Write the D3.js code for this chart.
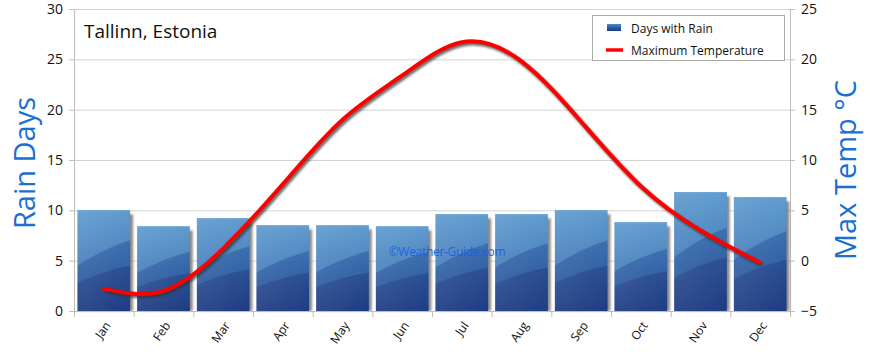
<!DOCTYPE html>
<html><head><meta charset="utf-8">
<script src="https://cdn.jsdelivr.net/npm/d3@7"></script>
<style>body{margin:0;background:#fff}svg{display:block}</style>
</head><body>
<svg id="c" width="870" height="352"></svg>
<script>
const months = ["Jan","Feb","Mar","Apr","May","Jun","Jul","Aug","Sep","Oct","Nov","Dec"];
const rainDays = [10.0, 8.4, 9.2, 8.5, 8.5, 8.4, 9.6, 9.6, 10.0, 8.8, 11.8, 11.3];
const maxTemp = [-2.8, -3.0, 1.2, 7.6, 14.0, 18.4, 21.7, 19.8, 13.8, 7.4, 3.0, -0.2];
const leftTicks = [0,5,10,15,20,25,30];
const rightTicks = [-5,0,5,10,15,20,25];

const svg = d3.select("#c");
const font = "'Open Sans', 'DejaVu Sans', sans-serif";
const L = 74, R = 790, T = 9, B = 311;

const x = d3.scaleBand().domain(months).range([L, R]).paddingInner(0.12).paddingOuter(0.06);
const xb = d3.scaleBand().domain(months).range([L, R]);
const yL = d3.scaleLinear().domain([0,30]).range([B, T]);
const yR = d3.scaleLinear().domain([-5,25]).range([B, T]);

const defs = svg.append("defs");
const g1 = defs.append("linearGradient").attr("id","barg").attr("x1","0").attr("y1","0").attr("x2","0").attr("y2","1");
g1.append("stop").attr("offset","0").attr("stop-color","#4b8cc6");
g1.append("stop").attr("offset","0.45").attr("stop-color","#2f63a8");
g1.append("stop").attr("offset","1").attr("stop-color","#1d3a80");
const g2 = defs.append("linearGradient").attr("id","hl").attr("x1","0").attr("y1","0").attr("x2","1").attr("y2","1");
g2.append("stop").attr("offset","0").attr("stop-color","#ffffff").attr("stop-opacity",0.15);
g2.append("stop").attr("offset","1").attr("stop-color","#ffffff").attr("stop-opacity",0.0);
const f = defs.append("filter").attr("id","blur").attr("x","-20%").attr("y","-20%").attr("width","140%").attr("height","140%");
f.append("feGaussianBlur").attr("stdDeviation",1.2);

// gridlines
svg.append("g").selectAll("line").data(leftTicks).join("line")
  .attr("x1",L).attr("x2",R).attr("y1",d=>yL(d)+0.5).attr("y2",d=>yL(d)+0.5)
  .attr("stroke","#d4d4d4").attr("stroke-width",1);

// axes
const axL = svg.append("g").attr("transform",`translate(${L},0)`)
  .call(d3.axisLeft(yL).tickValues(leftTicks).tickSize(5).tickPadding(6));
const axR = svg.append("g").attr("transform",`translate(${R},0)`)
  .call(d3.axisRight(yR).tickValues(rightTicks).tickSize(5).tickPadding(6));
[axL, axR].forEach(a=>{
  a.select(".domain").attr("stroke","#bdbdbd");
  a.selectAll(".tick line").attr("stroke","#bdbdbd");
  a.selectAll("text").attr("font-family",font).attr("font-size",14).attr("fill","#111");
});

// bars
const bars = svg.append("g");
bars.selectAll("rect.sh").data(rainDays).join("rect").attr("class","sh")
  .attr("x",(d,i)=>x(months[i])+3).attr("y",d=>yL(d)+4)
  .attr("width",x.bandwidth()).attr("height",d=>B-yL(d)-4)
  .attr("fill","#777").attr("opacity",0.85).attr("filter","url(#blur)");
bars.selectAll("rect.b").data(rainDays).join("rect").attr("class","b")
  .attr("x",(d,i)=>x(months[i])).attr("y",d=>yL(d))
  .attr("width",x.bandwidth()).attr("height",d=>B-yL(d))
  .attr("fill","url(#barg)");
bars.selectAll("path.w1").data(rainDays).join("path").attr("class","w1")
  .attr("d",(d,i)=>{const x0=x(months[i]), w=x.bandwidth(), y0=yL(d), h=B-y0;
    return `M${x0},${y0}H${x0+w}V${y0+h*0.3}Q${x0+w*0.5},${y0+h*0.38} ${x0},${y0+h*0.55}Z`;})
  .attr("fill","#5a9ad0").attr("opacity",0.5);
bars.selectAll("path.w2").data(rainDays).join("path").attr("class","w2")
  .attr("d",(d,i)=>{const x0=x(months[i]), w=x.bandwidth(), y0=yL(d), h=B-y0;
    return `M${x0},${y0+h*0.55}Q${x0+w*0.5},${y0+h*0.38} ${x0+w},${y0+h*0.3}V${y0+h*0.55}Q${x0+w*0.5},${y0+h*0.6} ${x0},${y0+h*0.72}Z`;})
  .attr("fill","#2c5fa6").attr("opacity",0.5);
bars.selectAll("path.w3").data(rainDays).join("path").attr("class","w3")
  .attr("d",(d,i)=>{const x0=x(months[i]), w=x.bandwidth(), y0=yL(d), h=B-y0;
    return `M${x0},${y0+h*0.72}Q${x0+w*0.5},${y0+h*0.6} ${x0+w},${y0+h*0.55}V${B}H${x0}Z`;})
  .attr("fill","#1f3d86").attr("opacity",0.6);
bars.selectAll("rect.hl").data(rainDays).join("rect").attr("class","hl")
  .attr("x",(d,i)=>x(months[i])).attr("y",d=>yL(d))
  .attr("width",x.bandwidth()).attr("height",d=>B-yL(d))
  .attr("fill","url(#hl)");
bars.selectAll("line.top").data(rainDays).join("line").attr("class","top")
  .attr("x1",(d,i)=>x(months[i])).attr("x2",(d,i)=>x(months[i])+x.bandwidth())
  .attr("y1",d=>yL(d)+0.5).attr("y2",d=>yL(d)+0.5).attr("stroke","#6fa6d6").attr("stroke-width",1);

// x axis
const axB = svg.append("g").attr("transform",`translate(0,${B})`)
  .call(d3.axisBottom(xb).tickSize(0).tickPadding(0));
axB.select(".domain").attr("stroke","#bdbdbd");
axB.selectAll(".tick text").attr("font-family",font).attr("font-size",12).attr("fill","#111")
  .attr("text-anchor","end").attr("dy","0.35em")
  .attr("transform","translate(4,12) rotate(-55)");
svg.append("g").selectAll("line").data(months.concat(["end"])).join("line")
  .attr("x1",(d,i)=>L+i*xb.step()+0.5).attr("x2",(d,i)=>L+i*xb.step()+0.5)
  .attr("y1",B).attr("y2",B+6).attr("stroke","#bdbdbd");

// watermark
svg.append("text").attr("x",xb("Jul")+15).attr("y",256)
  .attr("text-anchor","middle").attr("font-family",font).attr("font-size",12)
  .attr("letter-spacing",-0.3)
  .attr("fill","#1f62e0").text("©Weather-Guide.com");

// temperature line
const line = d3.line().x((d,i)=>xb(months[i])+xb.bandwidth()/2).y(d=>yR(d)).curve(d3.curveNatural);
svg.append("path").datum(maxTemp).attr("d",line).attr("fill","none")
  .attr("stroke","#333").attr("stroke-width",4.5).attr("opacity",0.7)
  .attr("transform","translate(1.5,2)").attr("filter","url(#blur)");
svg.append("path").datum(maxTemp).attr("d",line).attr("fill","none")
  .attr("stroke","#ff0000").attr("stroke-width",4).attr("stroke-linecap","round");

// title
svg.append("text").attr("x",84).attr("y",38).attr("font-family",font).attr("font-size",19)
  .attr("fill","#111").text("Tallinn, Estonia");

// axis titles
svg.append("text").attr("transform","translate(35,163) rotate(-90)").attr("text-anchor","middle")
  .attr("font-family",font).attr("font-size",29).attr("fill","#1a6fd3").text("Rain Days");
svg.append("text").attr("transform","translate(856,170) rotate(-90)").attr("text-anchor","middle")
  .attr("font-family",font).attr("font-size",29).attr("fill","#1a6fd3").text("Max Temp °C");

// legend
const lg = svg.append("g");
lg.append("rect").attr("x",592.5).attr("y",15.5).attr("width",192).attr("height",45)
  .attr("fill","#fff").attr("stroke","#aaa");
lg.append("rect").attr("x",607).attr("y",24).attr("width",14).attr("height",7).attr("fill","url(#barg)");
lg.append("text").attr("x",631).attr("y",33).attr("font-family",font).attr("font-size",12).attr("fill","#111").text("Days with Rain");
lg.append("line").attr("x1",606).attr("x2",623).attr("y1",50).attr("y2",50).attr("stroke","#ff0000").attr("stroke-width",3.5);
lg.append("text").attr("x",631).attr("y",55).attr("font-family",font).attr("font-size",12).attr("fill","#111").text("Maximum Temperature");
</script>
</body></html>
